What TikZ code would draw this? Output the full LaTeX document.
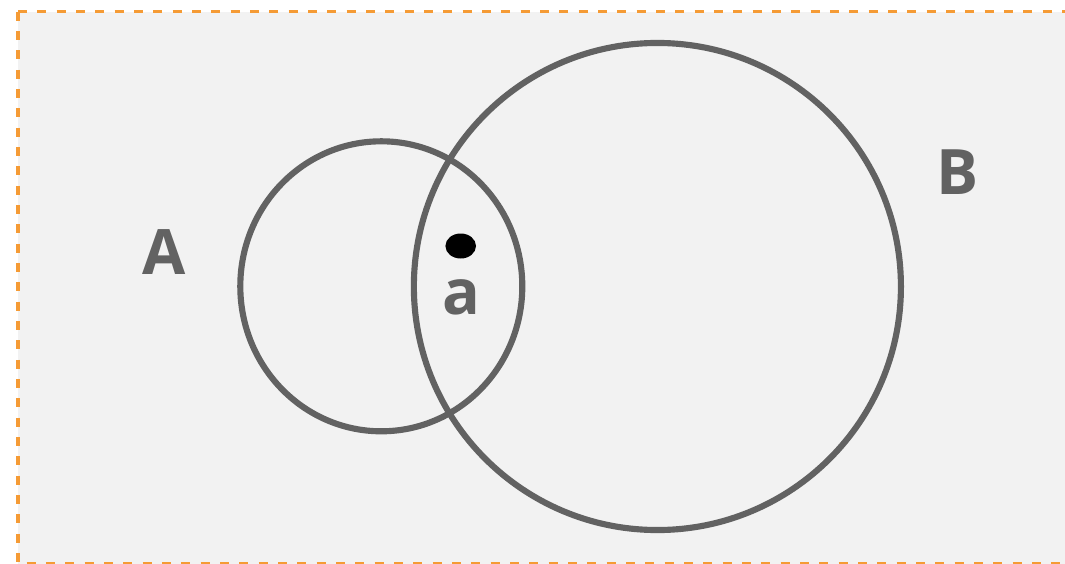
\documentclass[tikz,border=0pt]{standalone}
\usepackage{fontspec}
\setmainfont{Open Sans}
\usetikzlibrary{shapes.geometric}
\definecolor{vnorange}{RGB}{245,155,53}
\definecolor{vngray}{RGB}{98,98,98}
\definecolor{vnback}{RGB}{242,242,242}

\begin{document}
\begin{tikzpicture}[x=0.75pt,y=-0.75pt,line width=4.6pt,
  setlabel/.style={text=vngray,font=\fontsize{47}{47}\selectfont\bfseries,inner sep=0pt},
  frame/.style={vnorange,line width=2.6pt,dash pattern=on 6.8pt off 7.7pt}]
  \useasboundingbox (0,0) rectangle (1065,564);
  \coordinate (TL) at (18,11.5);
  \coordinate (TR) at (1066,11.5);
  \coordinate (BL) at (18,563.5);
  \coordinate (BR) at (1066,563.5);
  \fill[vnback] (TL) rectangle (BR);
  \draw[frame] (TL) -- (TR);
  \draw[frame] (TL) -- (BL) -- (BR);
  \node[draw=vngray,ellipse,minimum width=211.5pt,minimum height=217.5pt,inner sep=0pt] (A) at (381.3,286.3) {};
  \node[draw=vngray,circle,minimum size=365.3pt,inner sep=0pt] (B) at (657.4,286.5) {};
  \fill[black] (460.7,246) ellipse [x radius=15.3,y radius=12.5];
  \node[setlabel] (la) at (164,252) {A};
  \node[setlabel] (lb) at (958,172) {B};
  \node[setlabel] (ldot) at (461,297) {a};
\end{tikzpicture}
\end{document}
